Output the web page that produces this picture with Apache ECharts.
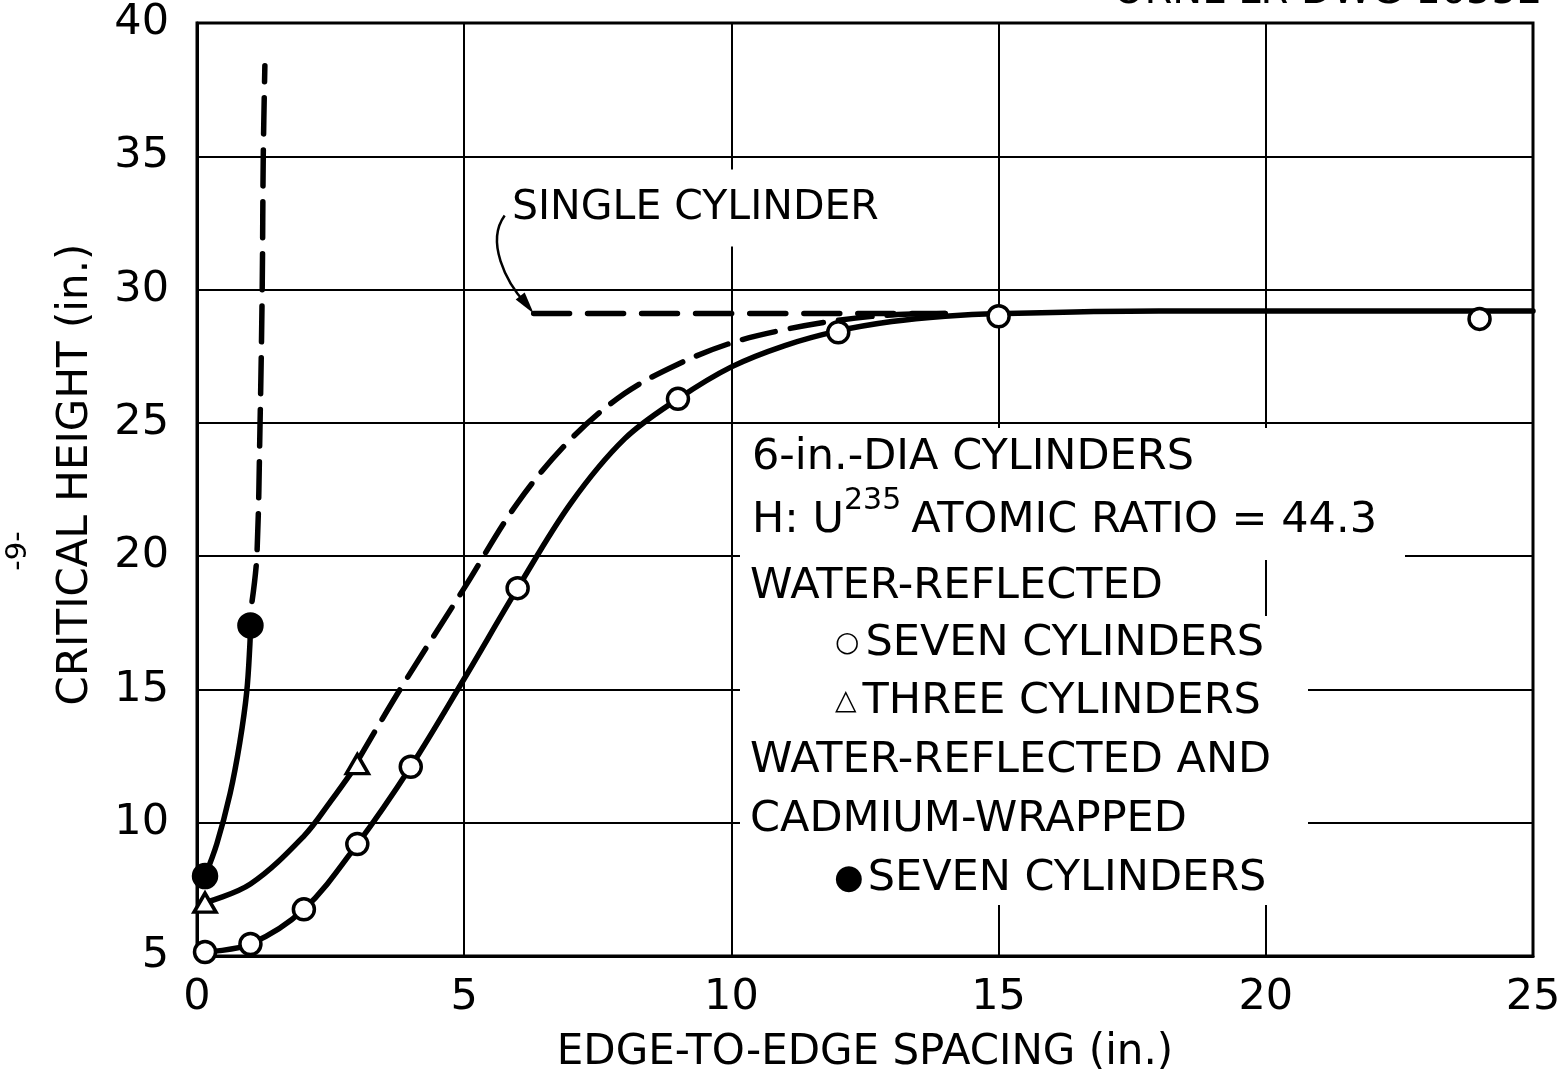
<!DOCTYPE html>
<html>
<head>
<meta charset="utf-8">
<title>Critical height vs edge-to-edge spacing</title>
<script src="https://cdn.jsdelivr.net/npm/echarts@6/dist/echarts.min.js"></script>
<style>
	html, body { margin: 0; padding: 0; background: #fff; }
	#main { width: 1565px; height: 1071px; }
</style>
</head>
<body>
<div id="main"></div>
<script>
	var FONT = 'DejaVu Sans';

	// axes
	var xMin = 0, xMax = 25, xStep = 5;
	var yMin = 5, yMax = 40, yStep = 5;

	// measured points (in.)
	var sevenWater = [[0.15, 5.15], [1, 5.45], [2, 6.75], [3, 9.2], [4, 12.1], [6, 18.8], [9, 25.9], [12, 28.4], [15, 29.0], [24, 28.9]];
	var threeWater = [[0.15, 7.0], [3, 12.2]];
	var sevenCadmium = [[0.15, 8.0], [1, 17.4]];

	// faired curves
	var sevenWaterCurve = [[0.15, 5.15], [1, 5.45], [2, 6.75], [3, 9.2], [4, 12.1], [5, 15.4], [6, 18.8], [7, 22.0], [8, 24.4], [9, 25.9], [10, 27.1], [11, 27.9], [12, 28.45], [13, 28.8], [14, 29.0], [15, 29.1], [18, 29.2], [25, 29.2]];
	var threeWaterCurve = [[0.15, 7.0], [1, 7.7], [2, 9.5], [2.5, 10.8], [3, 12.2]];
	var threeWaterDashed = [[3, 12.3], [3.8, 15], [5, 18.8], [6, 22.0], [7, 24.4], [8, 26.1], [9, 27.2], [10, 28.0], [11, 28.5], [12, 28.85], [13, 29.05], [14, 29.1]];
	var cadmiumCurve = [[0.15, 8.0], [0.37, 9.2], [0.62, 11.1], [0.8, 13.0], [0.93, 14.9], [0.99, 16.7], [1.0, 17.4]];
	var cadmiumDashed = [[1.03, 18.3], [1.12, 20], [1.18, 25], [1.22, 30], [1.24, 35], [1.27, 38.4]];
	var singleCylinder = [[6.3, 29.1], [14, 29.1]];

	// key text
	var keyLines = [
		'6-in.-DIA CYLINDERS',
		'H: U{sup|235}ATOMIC RATIO = 44.3',
		'WATER-REFLECTED',
		'{sym|○}SEVEN CYLINDERS',
		'{sym|△}THREE CYLINDERS',
		'WATER-REFLECTED AND',
		'CADMIUM-WRAPPED',
		'{dot|●}SEVEN CYLINDERS'
	];

	var chart = echarts.init(document.getElementById('main'));

	function curve(data, dashed) {
		return {
			type: 'line',
			data: data,
			smooth: 0.35,
			symbol: 'none',
			z: 3,
			lineStyle: { color: '#000', width: 5.5, type: dashed ? dashed : 'solid', cap: 'round' },
			silent: true
		};
	}

	function points(data, symbol, size, fill) {
		return {
			type: 'scatter',
			data: data,
			symbol: symbol,
			symbolSize: size,
			z: 5,
			itemStyle: { color: fill, borderColor: '#000', borderWidth: 3.5, opacity: 1 }
		};
	}

	chart.setOption({
		backgroundColor: '#fff',
		animation: false,
		grid: {
			left: 197, right: 32, top: 23, bottom: 115,
			show: true, borderColor: '#000', borderWidth: 3,
			outerBoundsMode: 'none'
		},
		xAxis: {
			type: 'value', min: xMin, max: xMax, interval: xStep,
			name: 'EDGE-TO-EDGE SPACING (in.)',
			nameLocation: 'middle', nameGap: 76,
			nameTextStyle: { fontFamily: FONT, fontSize: 42, color: '#000' },
			axisLine: { lineStyle: { color: '#000', width: 3 } },
			axisTick: { show: false },
			axisLabel: { fontFamily: FONT, fontSize: 43, color: '#000', margin: 20 },
			splitLine: { lineStyle: { color: '#000', width: 2 } }
		},
		yAxis: {
			type: 'value', min: yMin, max: yMax, interval: yStep,
			name: 'CRITICAL HEIGHT (in.)',
			nameLocation: 'middle', nameGap: 100,
			nameTextStyle: { fontFamily: FONT, fontSize: 42, color: '#000', padding: [0, 0, 0, 30] },
			axisLine: { lineStyle: { color: '#000', width: 3 } },
			axisTick: { show: false },
			axisLabel: { fontFamily: FONT, fontSize: 43, color: '#000', margin: 28 },
			splitLine: { lineStyle: { color: '#000', width: 2 } }
		},
		series: [
			curve(sevenWaterCurve),
			curve(threeWaterCurve),
			curve(threeWaterDashed, [34, 15]),
			curve(cadmiumCurve),
			curve(cadmiumDashed, [36, 16]),
			curve(singleCylinder, [36, 18]),
			points(sevenWater, 'circle', 21, '#fff'),
			points(threeWater, 'triangle', [22, 19], '#fff'),
			points(sevenCadmium, 'circle', 23, '#000')
		]
	});

	// annotations: key box, single-cylinder pointer, page marks
	var tip = chart.convertToPixel({ gridIndex: 0 }, singleCylinder[0]);
	var keyY = [458, 521, 587, 644, 702, 761, 820, 879];
	var keyX = [752, 752, 750, 835, 835, 750, 750, 834];
	var graphics = [
		// white areas behind the key, which break the grid lines
		{ type: 'rect', shape: { x: 740, y: 428, width: 665, height: 132 }, style: { fill: '#fff' }, z: 10 },
		{ type: 'rect', shape: { x: 740, y: 560, width: 505, height: 56 }, style: { fill: '#fff' }, z: 10 },
		{ type: 'rect', shape: { x: 740, y: 616, width: 568, height: 289 }, style: { fill: '#fff' }, z: 10 },
		{
			type: 'text', x: 508, y: 208, z: 10,
			style: {
				text: 'SINGLE CYLINDER', fontFamily: FONT, fontSize: 41, fill: '#000',
				verticalAlign: 'middle', backgroundColor: '#fff', padding: [30, 8, 6, 4]
			}
		},
		{
			type: 'bezierCurve', z: 11,
			shape: {
				x1: tip[0] - 29, y1: tip[1] - 98,
				cpx1: tip[0] - 48, cpy1: tip[1] - 72,
				cpx2: tip[0] - 28, cpy2: tip[1] - 32,
				x2: tip[0] - 8, y2: tip[1] - 10
			},
			style: { stroke: '#000', lineWidth: 2.5, fill: null }
		},
		{
			type: 'polygon', z: 11,
			shape: { points: [[tip[0], tip[1]], [tip[0] - 18, tip[1] - 14], [tip[0] - 9, tip[1] - 21]] },
			style: { fill: '#000' }
		},
		{
			type: 'text', x: 18, y: 551, rotation: Math.PI / 2, z: 10,
			style: { text: '-9-', fontFamily: FONT, fontSize: 29, fill: '#000', align: 'center', verticalAlign: 'middle' }
		},
		{
			type: 'text', x: 1113, y: 13, z: 10,
			style: { text: 'ORNL-LR-DWG 16552', fontFamily: FONT, fontSize: 40, fill: '#000', verticalAlign: 'bottom' }
		}
	];
	for (var i = 0; i < keyLines.length; i++) {
		graphics.push({
			type: 'text', x: keyX[i], y: keyY[i], z: 12,
			style: {
				text: keyLines[i], fontFamily: FONT, fontSize: 43, fill: '#000', verticalAlign: 'middle',
				rich: {
					sup: { fontFamily: FONT, fontSize: 30, fill: '#000', padding: [0, 10, 40, 0] },
					sym: { fontFamily: FONT, fontSize: 28, fill: '#000', padding: [0, 6, 0, 0] },
					dot: { fontFamily: FONT, fontSize: 34, fill: '#000', padding: [0, 4, 0, 0] }
				}
			}
		});
	}
	chart.setOption({ graphic: graphics });
</script>
</body>
</html>
